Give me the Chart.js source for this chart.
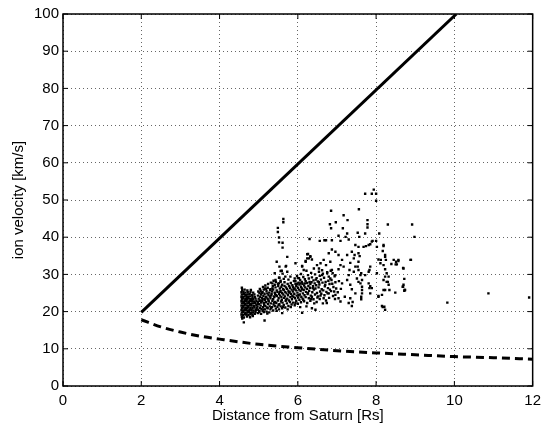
<!DOCTYPE html>
<html>
<head>
<meta charset="utf-8">
<script src="https://cdn.jsdelivr.net/npm/chart.js@4/dist/chart.umd.min.js"></script>
<style>
  html, body { margin: 0; padding: 0; background: #fff; }
  #wrap { width: 547px; height: 432px; }
</style>
</head>
<body>
<div id="wrap"><canvas id="ionChart" width="547" height="432"></canvas></div>
<script>
// axis ticks
const xTicks = [0, 2, 4, 6, 8, 10, 12];
const yTicks = [0, 10, 20, 30, 40, 50, 60, 70, 80, 90, 100];

// corotation speed (solid line)
const corotR = [2, 10.05];
const corotV = [19.8, 100];

// keplerian speed (dashed line)
const keplerR = [2, 2.5, 3, 3.5, 4, 5, 6, 7, 8, 9, 10, 11, 12];
const keplerV = [17.8, 15.9, 14.5, 13.4, 12.6, 11.2, 10.3, 9.5, 8.9, 8.4, 7.9, 7.6, 7.2];

// measured ion velocities: dense patch near 4.6 Rs
const coreScatter = [
  [4.57,18.6],[4.62,18.4],[4.70,18.7],[4.78,18.5],[4.85,18.8],
  [4.56,19.2],[4.60,19.1],[4.65,19.3],[4.69,19.2],[4.74,19.1],[4.79,19.3],[4.84,19.2],[4.90,19.4],
  [4.57,19.8],[4.61,19.9],[4.66,19.7],[4.71,19.8],[4.75,19.9],[4.80,19.7],[4.86,19.8],[4.92,19.9],
  [4.56,20.4],[4.60,20.3],[4.64,20.5],[4.68,20.4],[4.73,20.3],[4.77,20.5],[4.82,20.4],[4.87,20.3],[4.93,20.5],
  [4.57,21.0],[4.61,21.1],[4.66,20.9],[4.70,21.0],[4.74,21.1],[4.79,20.9],[4.84,21.0],[4.89,21.1],[4.95,20.9],
  [4.56,21.6],[4.60,21.5],[4.64,21.7],[4.69,21.6],[4.73,21.5],[4.78,21.7],[4.82,21.6],[4.88,21.5],[4.94,21.7],
  [4.57,22.2],[4.62,22.3],[4.66,22.1],[4.71,22.2],[4.75,22.3],[4.80,22.1],[4.85,22.2],[4.91,22.3],[4.97,22.1],
  [4.56,22.8],[4.60,22.7],[4.65,22.9],[4.69,22.8],[4.74,22.7],[4.78,22.9],[4.83,22.8],[4.88,22.7],[4.94,22.9],
  [4.57,23.4],[4.61,23.5],[4.66,23.3],[4.70,23.4],[4.75,23.5],[4.80,23.3],[4.86,23.4],[4.92,23.5],
  [4.56,24.0],[4.60,23.9],[4.64,24.1],[4.69,24.0],[4.73,23.9],[4.78,24.1],[4.84,24.0],[4.90,23.9],
  [4.57,24.6],[4.62,24.7],[4.67,24.5],[4.72,24.6],[4.77,24.7],[4.83,24.5],[4.89,24.6],
  [4.56,25.2],[4.61,25.3],[4.66,25.1],[4.72,25.2],[4.79,25.3],[4.86,25.1],
  [4.58,25.8],[4.64,25.9],[4.71,25.7],[4.80,25.8],
  [4.62,17.1],[4.58,18.1],[4.57,26.4]
];

// band from 5 to 7 Rs
const bandScatter = [
  [4.98,19.6],[4.99,20.5],[4.97,21.4],[4.98,22.6],[5.00,23.5],[4.98,24.3],[4.99,25.4],
  [5.02,20.1],[5.03,21.0],[5.01,22.0],[5.02,23.0],[5.04,24.0],[5.02,25.0],[5.03,26.1],
  [5.06,19.4],[5.07,20.7],[5.05,21.6],[5.06,22.4],[5.08,23.6],[5.06,24.6],[5.05,25.6],
  [5.10,20.2],[5.11,21.2],[5.09,22.8],[5.10,23.3],[5.12,24.2],[5.10,25.2],[5.11,26.6],
  [5.13,19.9],[5.14,21.8],[5.13,22.3],[5.15,24.8],[5.13,25.9],
  [5.16,20.6],[5.17,21.5],[5.16,23.1],[5.18,24.0],[5.16,26.2],[5.17,27.0],
  [5.20,20.0],[5.21,21.1],[5.19,22.5],[5.20,23.8],[5.22,24.9],[5.20,25.5],
  [5.23,20.9],[5.24,22.0],[5.23,23.4],[5.25,24.5],[5.23,26.4],[5.24,27.4],
  [5.27,19.8],[5.28,21.4],[5.26,22.7],[5.27,25.1],[5.29,25.8],
  [5.30,20.6],[5.31,22.2],[5.30,23.6],[5.32,24.3],[5.30,26.0],[5.31,27.8],
  [5.34,21.2],[5.35,22.9],[5.33,24.7],[5.34,25.4],[5.36,26.8],
  [5.37,20.3],[5.38,21.9],[5.37,23.3],[5.39,24.1],[5.37,25.9],[5.38,28.3],
  [5.41,21.5],[5.42,22.6],[5.40,23.9],[5.41,25.1],[5.43,26.5],[5.41,27.2],
  [5.44,20.8],[5.45,22.3],[5.44,24.4],[5.46,25.7],[5.44,28.0],
  [5.48,21.3],[5.49,23.0],[5.47,24.2],[5.48,25.3],[5.50,26.9],
  [5.52,20.6],[5.53,22.0],[5.51,23.6],[5.52,24.8],[5.54,26.2],[5.52,27.6],[5.53,29.1],
  [5.56,21.4],[5.57,22.7],[5.55,24.3],[5.56,25.5],[5.58,26.7],[5.56,28.3],
  [5.60,20.9],[5.61,22.4],[5.59,23.2],[5.60,25.0],[5.62,26.0],[5.60,27.2],[5.61,30.2],
  [5.64,21.8],[5.65,23.7],[5.63,24.6],[5.64,25.8],[5.66,27.9],[5.64,28.8],
  [5.68,21.1],[5.69,22.9],[5.67,24.1],[5.68,25.3],[5.70,26.5],[5.68,29.4],
  [5.72,22.2],[5.73,23.5],[5.71,24.9],[5.72,26.1],[5.74,27.4],
  [5.76,21.5],[5.77,23.0],[5.75,24.4],[5.76,25.6],[5.78,26.9],[5.76,28.6],
  [5.80,22.6],[5.81,23.9],[5.79,25.2],[5.80,26.4],[5.82,27.7],
  [5.84,21.9],[5.85,23.3],[5.83,24.7],[5.84,25.9],[5.86,27.1],
  [5.88,22.4],[5.89,24.0],[5.87,25.4],[5.88,26.6],[5.90,28.2],
  [5.92,21.7],[5.93,23.6],[5.91,24.8],[5.92,26.2],[5.94,27.5],[5.92,28.9],
  [5.96,22.9],[5.97,24.3],[5.95,25.7],[5.96,26.9],[5.98,29.6],
  [6.00,22.1],[6.01,23.8],[5.99,25.1],[6.00,26.4],[6.02,27.8],[6.00,29.0],
  [6.04,23.2],[6.05,24.6],[6.03,25.9],[6.04,27.3],[6.06,28.5],
  [6.08,22.5],[6.09,24.0],[6.07,25.5],[6.08,26.7],[6.10,28.0],[6.08,30.1],
  [6.12,23.5],[6.13,24.9],[6.11,26.2],[6.12,27.5],[6.14,29.3],
  [6.16,22.8],[6.17,24.4],[6.15,25.8],[6.16,27.0],[6.18,28.7],
  [6.20,23.9],[6.21,25.3],[6.19,26.5],[6.20,28.2],[6.22,31.0],
  [6.24,22.3],[6.25,24.7],[6.23,26.1],[6.24,27.7],[6.26,29.8],
  [6.28,23.6],[6.29,25.6],[6.27,26.9],[6.28,28.9],
  [6.32,22.9],[6.33,24.3],[6.31,26.4],[6.32,27.4],[6.34,30.4],
  [6.36,24.0],[6.37,25.2],[6.35,27.9],[6.36,29.2],
  [6.40,23.3],[6.41,25.9],[6.39,26.8],[6.40,28.4],
  [6.44,24.6],[6.45,26.2],[6.43,27.6],[6.44,30.0],
  [6.48,22.6],[6.49,25.0],[6.47,27.1],[6.48,29.0],
  [6.52,24.1],[6.53,26.5],[6.51,28.1],
  [6.56,23.4],[6.57,25.4],[6.55,27.3],[6.56,29.6],
  [6.60,24.8],[6.61,26.0],[6.59,28.6],
  [6.64,22.2],[6.65,25.7],[6.63,27.8],[6.64,30.2],
  [6.68,24.4],[6.69,26.8],[6.67,29.1],
  [6.72,23.0],[6.73,25.3],[6.71,28.0],[6.72,32.5],
  [6.76,24.9],[6.77,26.3],[6.75,30.6],
  [6.80,23.7],[6.81,27.4],[6.79,29.4],
  [6.85,25.5],[6.86,28.5],[6.84,31.0],
  [6.90,24.2],[6.91,26.6],[6.89,30.3],
  [6.95,23.4],[6.96,27.9],[6.94,29.5],
  [5.15,17.6],[5.60,19.6],[6.11,19.7],[6.36,20.9],[6.45,20.5],
  [5.01,19.9],[5.04,22.9],[5.08,25.0],[5.12,20.6],[5.15,23.4],[5.19,26.1],[5.22,19.5],[5.25,23.0],
  [5.28,24.1],[5.32,21.0],[5.35,26.2],[5.39,22.4],[5.42,24.8],[5.46,20.2],[5.49,27.5],[5.51,21.8],
  [5.54,25.3],[5.58,23.9],[5.62,21.3],[5.66,26.9],[5.70,23.2],[5.74,20.6],[5.78,25.1],[5.82,21.2],
  [5.86,24.2],[5.90,26.0],[5.94,22.3],[5.98,27.4],[6.02,24.4],[6.06,21.2],[6.10,26.0],[6.14,23.2],
  [6.18,27.6],[6.22,21.4],[6.26,25.0],[6.30,28.0],[6.34,23.4],[6.38,26.3],[6.42,22.2],[6.46,28.6],
  [6.50,23.8],[6.54,27.9],[6.58,24.3],[6.62,31.1],[6.66,23.6],[6.70,27.2],[6.74,22.3],[6.78,28.3],
  [6.82,25.9],[6.88,27.5],[6.93,25.4],[6.98,26.2]
];

// sparse points: upper outliers and beyond 7 Rs
const outerScatter = [
  [5.63,44.9],[5.63,44.0],[5.49,42.5],[5.49,41.4],[5.52,39.9],[5.52,38.6],[5.61,38.5],[5.61,37.2],
  [5.73,34.7],[5.46,33.4],[5.53,32.1],[5.70,32.3],[5.59,31.0],[5.73,30.7],[5.41,30.3],[5.94,33.0],
  [5.56,30.9],[5.69,32.1],[5.52,29.1],[5.43,28.5],[5.35,27.6],[5.56,28.0],[5.81,29.4],[5.94,28.2],
  [6.03,29.0],[6.07,27.6],[6.24,35.4],[6.28,34.3],[6.20,33.6],[6.32,34.7],[6.11,32.1],[6.15,31.2],
  [6.41,31.6],[6.49,32.5],[6.54,30.7],[6.30,39.5],
  [7.72,51.7],[7.94,52.8],[8.00,51.7],[7.89,51.7],[8.00,49.8],[6.85,47.1],[7.17,45.9],[7.56,47.5],
  [7.27,44.6],[7.78,44.6],[7.78,43.5],[7.78,42.6],[6.97,44.0],[6.82,43.5],[8.30,43.4],[8.92,43.4],
  [6.85,42.4],[8.98,40.1],[8.08,41.0],[7.15,42.4],[7.26,41.0],[7.22,40.1],[7.53,41.2],[7.72,41.0],
  [7.57,40.1],[6.68,39.2],[6.72,39.2],[6.56,39.0],[6.87,39.2],[7.04,40.4],[7.09,39.0],[7.30,39.4],
  [8.00,39.0],[7.89,38.8],[7.55,37.4],[7.68,37.4],[7.74,37.6],[7.81,37.9],[7.85,38.1],[7.47,37.9],
  [8.19,37.6],[8.02,37.4],[6.87,36.7],[6.79,35.7],[6.96,36.1],[7.04,35.2],[7.38,36.1],[7.26,35.2],
  [7.58,34.9],[7.43,34.3],[6.26,35.5],[6.32,34.9],[6.36,34.0],[6.24,34.3],[6.20,33.4],[6.11,32.3],
  [7.13,33.9],[7.09,32.5],[7.04,31.4],[7.17,32.1],[6.66,33.9],[6.58,33.0],[6.83,33.4],[6.54,31.6],
  [8.06,34.0],[8.11,33.0],[8.23,34.7],[8.19,32.5],[8.45,33.9],[8.53,32.7],[8.57,33.9],[8.70,31.6],
  [7.85,32.1],[7.81,30.7],[7.72,29.8],[7.47,32.1],[7.55,31.2],[7.43,30.7],[7.62,30.3],[7.34,33.1],
  [7.32,31.2],[7.30,29.8],[6.87,31.2],[6.96,29.8],[6.75,30.3],[6.62,29.8],[6.83,28.9],[8.02,30.3],
  [8.23,29.4],[8.27,28.0],[8.32,27.2],[8.23,25.8],[8.70,27.2],[8.74,25.8],[8.49,25.1],[8.06,24.2],
  [7.34,27.2],[7.38,26.0],[7.26,28.5],[7.13,27.6],[7.55,28.0],[7.64,26.7],[7.81,27.6],[7.89,26.3],
  [7.85,24.9],[7.47,24.9],[7.34,23.6],[6.96,24.5],[7.04,23.6],[6.79,24.9],
  [7.91,39.0],[7.45,35.2],[7.55,35.7],[7.55,33.4],[7.53,32.1],[8.19,37.9],[8.17,36.3],[8.23,35.2],
  [8.25,33.9],[8.12,33.9],[8.51,33.4],[8.39,32.8],[8.50,32.7],[8.89,33.9],[7.83,31.2],[8.23,31.4],
  [8.27,30.3],[8.32,29.4],[8.19,28.5],[7.60,29.8],[7.51,28.9],[7.64,28.5],[7.60,27.6],[7.85,26.8],
  [7.83,26.3],[7.64,25.8],[7.64,24.9],[7.62,24.0],[7.62,23.3],[8.30,28.0],[8.34,25.8],[8.19,25.8],
  [8.15,24.5],[8.06,24.0],[8.68,26.7],[8.73,25.8],[8.15,21.5],[8.17,21.2],[8.21,21.3],[8.23,20.5],
  [8.57,33.6],[8.88,33.9],[8.69,31.7],[8.72,28.8],[8.69,26.7],[8.72,25.6],
  [9.82,22.4],[10.87,24.9],[11.91,23.8],
  [7.09,22.7],[7.30,22.3],[7.38,21.5],[7.02,25.2],[7.05,28.2],[7.10,26.1],[7.20,24.0],[7.40,22.6]
];

document.addEventListener('DOMContentLoaded', () => {
    const fontFamily = "'Liberation Sans', Arial, Helvetica, sans-serif";
    const toXY = (xs, ys) => xs.map((x, i) => ({ x: x, y: ys[i] }));
    const ionPoints = coreScatter.concat(bandScatter, outerScatter).map(p => ({ x: p[0], y: p[1] }));

    // MATLAB style box with inward tick marks
    const matlabBox = {
        id: 'matlabBox',
        afterDraw(chart) {
            const { ctx, chartArea: a, scales } = chart;
            const len = 5;
            ctx.save();
            ctx.strokeStyle = '#000';
            ctx.lineWidth = 1;
            ctx.beginPath();
            xTicks.forEach(v => {
                const px = scales.x.getPixelForValue(v);
                ctx.moveTo(px, a.bottom); ctx.lineTo(px, a.bottom - len);
                ctx.moveTo(px, a.top); ctx.lineTo(px, a.top + len);
            });
            yTicks.forEach(v => {
                const py = scales.y.getPixelForValue(v);
                ctx.moveTo(a.left, py); ctx.lineTo(a.left + len, py);
                ctx.moveTo(a.right, py); ctx.lineTo(a.right - len, py);
            });
            ctx.stroke();
            ctx.lineWidth = 1.5;
            ctx.strokeRect(a.left, a.top, a.right - a.left, a.bottom - a.top);
            ctx.restore();
        }
    };

    const ctx = document.getElementById('ionChart');
    new Chart(ctx, {
        type: 'scatter',
        data: {
            datasets: [
                {
                    label: 'ions',
                    data: ionPoints,
                    backgroundColor: '#000',
                    borderWidth: 0,
                    pointStyle: 'rect',
                    pointRadius: 1.7,
                    pointHoverRadius: 1.7
                },
                {
                    label: 'corotation',
                    data: toXY(corotR, corotV),
                    showLine: true,
                    borderColor: '#000',
                    borderWidth: 3,
                    pointRadius: 0
                },
                {
                    label: 'keplerian',
                    data: toXY(keplerR, keplerV),
                    showLine: true,
                    borderColor: '#000',
                    borderWidth: 3,
                    borderDash: [8, 5],
                    cubicInterpolationMode: 'monotone',
                    pointRadius: 0
                }
            ]
        },
        options: {
            responsive: false,
            animation: false,
            layout: { padding: { top: 14, right: 12, left: 0, bottom: 0 } },
            plugins: {
                legend: { display: false },
                tooltip: { enabled: false }
            },
            scales: {
                x: {
                    type: 'linear',
                    min: 0,
                    max: 12,
                    afterFit: s => { s.height = 46; },
                    afterBuildTicks: s => { s.ticks = xTicks.map(v => ({ value: v })); },
                    ticks: { color: '#000', padding: 6, font: { family: fontFamily, size: 15 } },
                    grid: { color: '#666', drawTicks: false },
                    border: { display: false, dash: [1, 3] },
                    title: {
                        display: true,
                        text: 'Distance from Saturn [Rs]',
                        color: '#000',
                        font: { family: fontFamily, size: 15 },
                        padding: { top: 0, bottom: 7 }
                    }
                },
                y: {
                    type: 'linear',
                    min: 0,
                    max: 100,
                    afterFit: s => { s.width = 63; },
                    afterBuildTicks: s => { s.ticks = yTicks.map(v => ({ value: v })); },
                    ticks: { color: '#000', padding: 4, font: { family: fontFamily, size: 15 } },
                    grid: { color: '#666', drawTicks: false },
                    border: { display: false, dash: [1, 3] },
                    title: {
                        display: true,
                        text: 'ion velocity [km/s]',
                        color: '#000',
                        font: { family: fontFamily, size: 15 },
                        padding: { top: 10, bottom: 0 }
                    }
                }
            }
        },
        plugins: [matlabBox]
    });
});
</script>
</body>
</html>
